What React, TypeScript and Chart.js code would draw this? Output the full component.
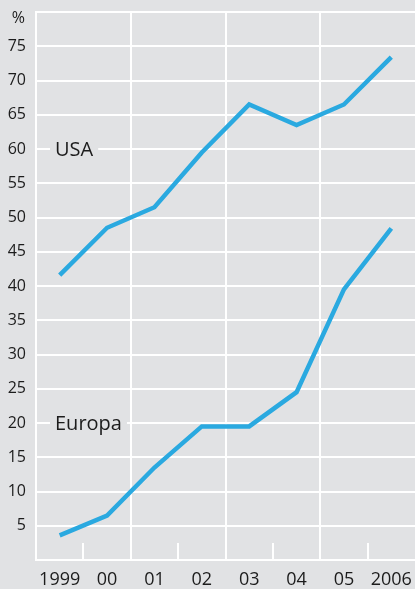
import React, { useEffect, useRef } from "react";
import { Chart, registerables } from "chart.js";

Chart.register(...registerables);

const years = ["1999", "00", "01", "02", "03", "04", "05", "2006"];
const usa = [41.6, 48.5, 51.5, 59.5, 66.5, 63.5, 66.5, 73.4];
const europa = [3.6, 6.5, 13.5, 19.5, 19.5, 24.5, 39.5, 48.4];
const seriesLabels = [
  { text: "USA", value: 60 },
  { text: "Europa", value: 20 },
];
const unitLabel = "%";

const BG = "#e1e2e4";
const LINE = "#2aa9e0";
const TEXT = "#1c1c1c";
const FONT = "'Open Sans', 'Noto Sans', sans-serif";

const gridPlugin = {
  id: "customGrid",
  beforeDatasetsDraw(chart: any) {
    const { ctx, chartArea } = chart;
    const y = chart.scales.y;
    const n = years.length;
    const w = (chartArea.right - chartArea.left) / n;
    ctx.save();
    ctx.strokeStyle = "#ffffff";
    ctx.lineWidth = 2;
    const shortTop = y.getPixelForValue(2.5);
    for (let k = 0; k < n; k++) {
      const bx = Math.round(chartArea.left + k * w);
      ctx.beginPath();
      if (k % 2 === 0) {
        ctx.moveTo(bx, chartArea.top - 1);
        ctx.lineTo(bx, chartArea.bottom + 1);
      } else {
        ctx.moveTo(bx, shortTop);
        ctx.lineTo(bx, chartArea.bottom);
      }
      ctx.stroke();
    }
    // unit label
    ctx.font = `16px ${FONT}`;
    ctx.fillStyle = TEXT;
    ctx.textAlign = "right";
    ctx.textBaseline = "middle";
    ctx.fillText(unitLabel, chartArea.left - 11, y.getPixelForValue(79));
    // series labels
    ctx.font = `20px ${FONT}`;
    ctx.textBaseline = "middle";
    ctx.textAlign = "left";
    for (const l of seriesLabels) {
      const py = y.getPixelForValue(l.value);
      const tw = ctx.measureText(l.text).width;
      const x0 = chartArea.left + 14;
      ctx.fillStyle = BG;
      ctx.fillRect(x0, py - 3, tw + 10, 6);
      ctx.fillStyle = TEXT;
      ctx.fillText(l.text, x0 + 5, py + 1);
    }
    ctx.restore();
  },
};

export default function App() {
  const ref = useRef<HTMLCanvasElement>(null);
  useEffect(() => {
    if (!ref.current) return;
    const chart = new Chart(ref.current, {
      type: "line",
      data: {
        labels: years,
        datasets: [
          {
            label: "USA",
            data: usa,
            borderColor: LINE,
            borderWidth: 4.5,
            pointRadius: 0,
            tension: 0,
          },
          {
            label: "Europa",
            data: europa,
            borderColor: LINE,
            borderWidth: 4.5,
            pointRadius: 0,
            tension: 0,
          },
        ],
      },
      options: {
        animation: false,
        responsive: false,
        maintainAspectRatio: false,
        layout: { padding: { top: 12, right: 0, left: 0, bottom: 0 } },
        plugins: {
          legend: { display: false },
          tooltip: { enabled: false },
        },
        scales: {
          x: {
            type: "category",
            offset: true,
            grid: { display: false, drawTicks: false },
            border: { display: false },
            ticks: {
              color: TEXT,
              font: { family: FONT, size: 18, lineHeight: 2.2 },
              padding: 0,
              maxRotation: 0,
              autoSkip: false,
            },
            afterFit(scale: any) {
              scale.height = 29;
            },
          },
          y: {
            min: 0,
            max: 80,
            grid: { color: "#ffffff", lineWidth: 2, drawTicks: false },
            border: { display: false },
            ticks: {
              stepSize: 5,
              color: TEXT,
              font: { family: FONT, size: 16 },
              padding: 10,
              callback: (v: any) => (v === 80 || v === 0 ? "" : String(v)),
            },
            afterFit(scale: any) {
              scale.width = 36;
              scale.paddingTop = 0;
              scale.paddingBottom = 0;
            },
          },
        },
      },
      plugins: [gridPlugin],
    } as any);
    return () => chart.destroy();
  }, []);
  return (
    <div
      style={{
        position: "fixed",
        left: 0,
        top: 0,
        width: 415,
        height: 589,
        background: BG,
      }}
    >
      <canvas ref={ref} width={415} height={589} style={{ display: "block" }} />
    </div>
  );
}
